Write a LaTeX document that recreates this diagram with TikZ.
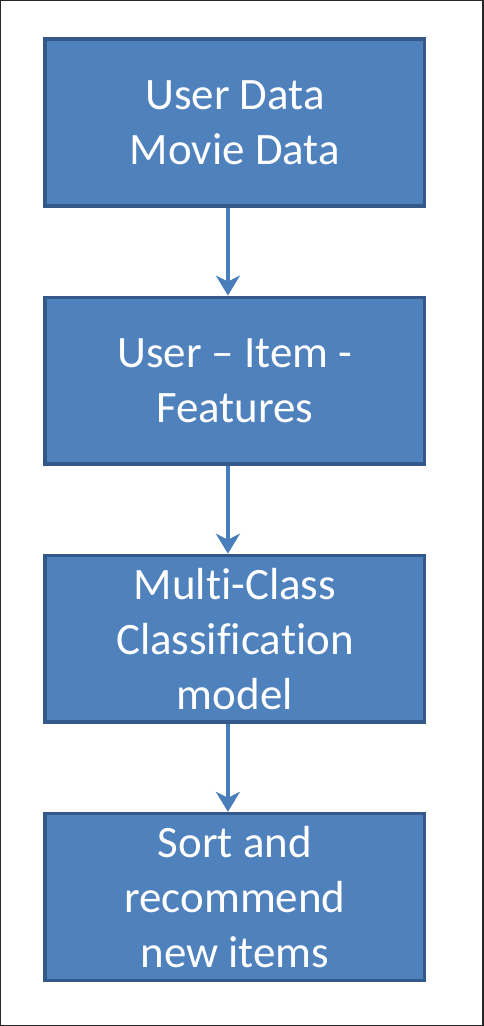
\documentclass[tikz,border=0pt]{standalone}
\usepackage{fontspec}
\setmainfont[Ligatures=CommonOff]{Carlito}
\usetikzlibrary{arrows.meta}
\usetikzlibrary{positioning}
\definecolor{boxfill}{HTML}{4F81BD}
\definecolor{boxline}{HTML}{34588A}
\definecolor{arrowcol}{HTML}{4A7EBB}

\begin{document}
\begin{tikzpicture}[
        x=1pt, y=1pt,
        node distance=88pt,
        stepbox/.style={draw=boxline, line width=3.5pt, fill=boxfill,
            minimum width=380pt, minimum height=167pt,
            text=white, align=center, inner sep=0pt,
            font=\fontsize{45}{55}\selectfont},
        flow/.style={-{Stealth[length=20pt, width=24pt, inset=6pt]}, line width=4pt, arrowcol}
    ]
        % Rahmen
        \draw[line width=1.5pt, black!85] (0,0) rectangle (483,-1026);
        \useasboundingbox (0,0) rectangle (483,-1026);

        % Kaesten
        \node[stepbox] (data) at (234.5,-122) {User Data\\Movie Data};
        \node[stepbox, below=of data] (feat) {User -- Item -\\Features};
        \node[stepbox, below=of feat] (model) {Multi-Class\\Classification\\model};
        \node[stepbox, below=of model] (sort) {Sort and\\recommend\\new items};

        % Pfeile
        \draw[flow] ([xshift=-7pt]data.south) -- ([xshift=-7pt]feat.north);
        \draw[flow] ([xshift=-7pt]feat.south) -- ([xshift=-7pt]model.north);
        \draw[flow] ([xshift=-7pt]model.south) -- ([xshift=-7pt]sort.north);
    \end{tikzpicture}
\end{document}
